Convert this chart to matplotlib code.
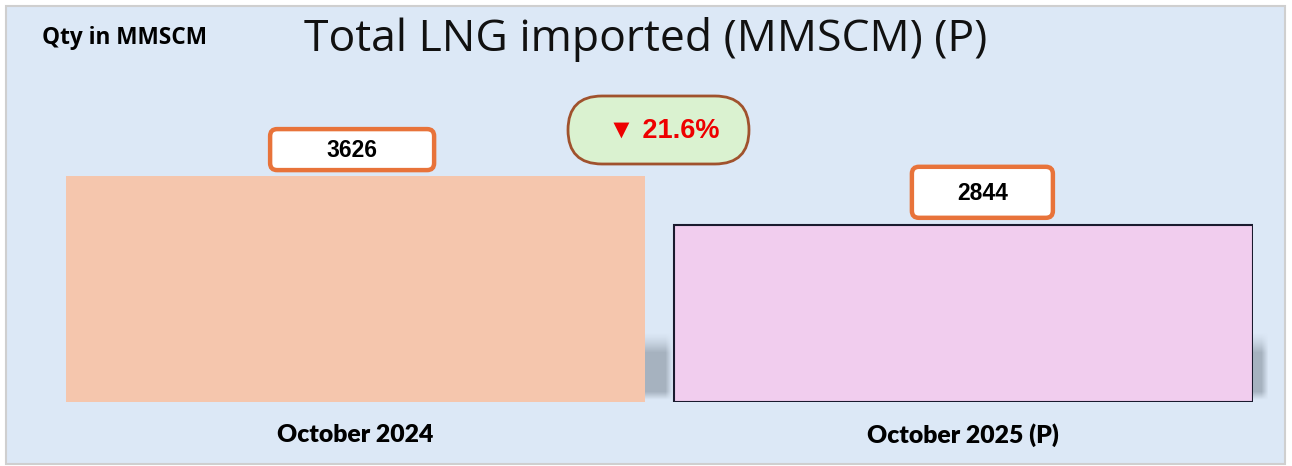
import numpy as np
import matplotlib
matplotlib.use("Agg")
import matplotlib.pyplot as plt
from matplotlib.patches import Rectangle, FancyBboxPatch
from matplotlib.transforms import IdentityTransform

# ---- data ----
categories = ["October 2024", "October 2025 (P)"]
values = [3626, 2844]
value_labels = ["3626", "2844"]
change_label = "\u25BC 21.6%"
title = "Total LNG imported (MMSCM) (P)"
unit_note = "Qty in MMSCM"

W, H = 1292, 466
fig = plt.figure(figsize=(W / 100, H / 100), dpi=100)
fig.patch.set_facecolor("white")

# panel background
panel = Rectangle((6 / W, 2 / H), 1279 / W, 458 / H, transform=fig.transFigure,
                  facecolor="#DCE8F6", edgecolor="#CFCFCF", linewidth=1.5, zorder=-10)
fig.patches.append(panel)

# axes: x from 66px to 1253px, baseline at y=402px (from top)
ax_left, ax_right = 66, 1253
ax_bottom, ax_top = H - 402, H - 50
ax = fig.add_axes([ax_left / W, ax_bottom / H, (ax_right - ax_left) / W, (ax_top - ax_bottom) / H])
ax.set_facecolor("none")
for s in ax.spines.values():
    s.set_visible(False)
ax.set_xticks([]); ax.set_yticks([])

x = np.arange(len(values))
width = 0.953
half = width / 2
ymax = 5650
px_per_unit_x = (ax_right - ax_left) / (len(values) - 1 + width)

# soft shadows behind bars (decorative)
shadow_ext_px = [28, 16]
sh_top, sh_bot = 1130, 40
back_px = 120
for xi, ext in zip(x, shadow_ext_px):
    wpx = back_px + ext
    ny, nx = 100, int(wpx)
    yy = np.linspace(0, 1, ny)[:, None]      # 0 = top, 1 = bottom
    xx = np.linspace(0, 1, nx)[None, :]      # 0 = left, 1 = right
    a_v = np.clip(yy / 0.3, 0, 1) ** 1.4 * np.clip((1 - yy) / 0.12, 0, 1)
    fade = 7 / wpx
    a_h = np.clip((1 - xx) / fade, 0, 1)
    img = np.zeros((ny, nx, 4))
    img[..., 0] = 0.64; img[..., 1] = 0.69; img[..., 2] = 0.74
    img[..., 3] = np.clip(0.95 * a_v * a_h, 0, 1)
    x0 = xi + half - back_px / px_per_unit_x
    x1 = xi + half + ext / px_per_unit_x
    im = ax.imshow(img, extent=(x0, x1, sh_bot, sh_top), origin="upper",
                   aspect="auto", zorder=1, interpolation="bilinear")
    im.set_clip_on(False)

bar_colors = ["#F5C6AD", "#F1CDEE"]
edge_colors = ["none", "#1A1A2E"]
for xi, v, c, e in zip(x, values, bar_colors, edge_colors):
    ax.bar(xi, v, width=width, color=c, edgecolor=e, linewidth=1.5, zorder=2)

ax.set_xlim(-half, len(values) - 1 + half)
ax.set_ylim(0, ymax)

# value label boxes (positioned from the bar tops, sizes in pixels)
box_offsets = [(-3.5, 26.5), (19, 32.5)]
box_sizes = [(164, 41), (141, 51)]
for xi, v, lab, off, sz in zip(x, values, value_labels, box_offsets, box_sizes):
    px, py = ax.transData.transform((xi, v))
    cx, cy = px + off[0], py + off[1]
    bw, bh = sz
    box = FancyBboxPatch((cx - bw / 2, cy - bh / 2), bw, bh,
                         boxstyle="round,pad=0,rounding_size=7", transform=IdentityTransform(),
                         facecolor="white", edgecolor="#E8733A", linewidth=3.2, zorder=5)
    fig.patches.append(box)
    fig.text(cx / W, (cy - 1) / H, lab, ha="center", va="center", fontsize=16.5,
             fontweight="bold", family="Liberation Sans", zorder=6)

# category labels
for xi, cat in zip(x, categories):
    ax.text(xi, -530, cat, ha="center", va="center", fontsize=17.8, fontweight="heavy",
            family="Lato", clip_on=False)

# change bubble (pill shape, in inches)
pill = FancyBboxPatch((5.68, 3.02), 1.81, 0.68, boxstyle="round,pad=0,rounding_size=0.34",
                      transform=fig.dpi_scale_trans, facecolor="#DAF2D0",
                      edgecolor="#A0522D", linewidth=2, zorder=3)
fig.patches.append(pill)
fig.text(664 / W, 1 - 131 / H, change_label, ha="center", va="center", color="#EE0000",
         fontsize=19.5, fontweight="bold", family=["Liberation Sans", "DejaVu Sans"], zorder=4)

# title and note
fig.text(646 / W, 1 - 40 / H, title, ha="center", va="center", fontsize=32, family="Open Sans",
         color="#111111")
fig.text(42 / W, 1 - 38 / H, unit_note, ha="left", va="center", fontsize=16.3,
         fontweight="bold", family="Open Sans")

fig.savefig("out.png", dpi=100, facecolor=fig.get_facecolor())
